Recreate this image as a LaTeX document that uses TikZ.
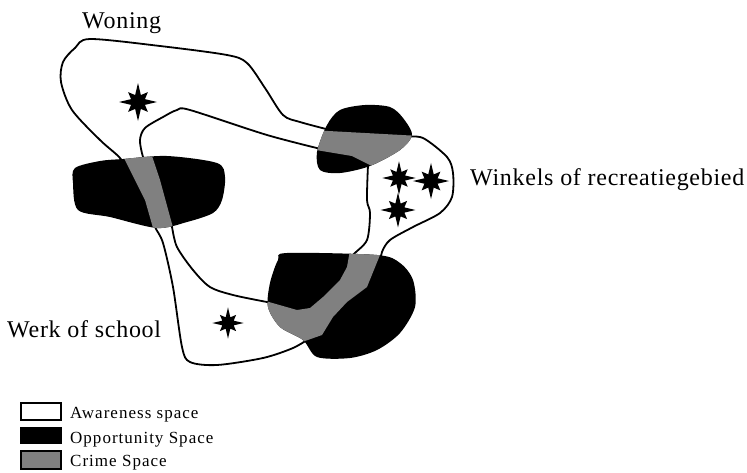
\documentclass[tikz,border=0pt]{standalone}
\usepackage{fontspec}
\setmainfont{Liberation Serif}
\newfontfamily\labelfont[LetterSpace=3]{Liberation Serif}
\newfontfamily\legendfont[LetterSpace=6]{Liberation Serif}
\definecolor{crimegray}{RGB}{128,128,128}
\tikzset{
  aware/.style={line width=1.8pt, line join=round, line cap=round},
  blob/.style={fill=black},
  band/.style={fill=crimegray},
  placelabel/.style={inner sep=0pt, font=\labelfont\fontsize{24}{26}\selectfont},
  legendlabel/.style={inner sep=0pt, font=\legendfont\fontsize{17}{19}\selectfont},
  legendbox/.style={draw=black, line width=1.6pt},
  crimestar/.pic={
    \fill[black] (0:19pt)--(22.5:7.5pt)--(45:14pt)--(67.5:7.5pt)--(90:19pt)--(112.5:7.5pt)--(135:14pt)--(157.5:7.5pt)--(180:19pt)--(202.5:7.5pt)--(225:14pt)--(247.5:7.5pt)--(270:19pt)--(292.5:7.5pt)--(315:14pt)--(337.5:7.5pt)--cycle;
  }
}
\begin{document}
\begin{tikzpicture}[x=1pt,y=-1pt]
\useasboundingbox (0,0) rectangle (747,472);

% awareness space outlines
\draw[aware] plot[smooth, tension=0.5] coordinates {(130,175) (120,158) (100,140) (72,110) (61,82) (63,62) (75,48) (90,39) (160,46) (227,55) (247,63) (265,88) (283,115) (300,122) (330,130)};
\draw[aware] plot[smooth, tension=0.5] coordinates {(150,175) (143,157) (140,140) (145,128) (163,117) (177,110) (190,110) (267,135) (325,150)};
\draw[aware] plot[smooth, tension=0.5] coordinates {(405,137) (423,138) (447,157) (453,173) (452,197) (440,213) (413,227) (390,240) (382,252) (380,265)};
\draw[aware] plot[smooth, tension=0.5] coordinates {(368,165) (367,200) (370,213) (367,240) (353,255) (348,265)};
\draw[aware] plot[smooth, tension=0.5] coordinates {(310,338) (293,348) (263,358) (217,365) (190,362) (182,347) (173,287) (163,243) (155,227) (152,215)};
\draw[aware] plot[smooth, tension=0.5] coordinates {(275,303) (267,302) (233,295) (210,287) (193,270) (177,247) (172,227) (170,215)};

% left blob
\def\leftblob{plot[smooth cycle, tension=0.5] coordinates {(100,161) (123,159) (167,156) (217,163) (225,177) (222,200) (213,213) (187,222) (157,228) (110,217) (78,210) (73,183) (75,168)}}
\fill[blob] \leftblob;
\begin{scope}
  \clip \leftblob;
  \fill[band] (120,150) -- (150,150) -- (160,180) -- (175,235) -- (155,235) -- (145,200) -- (130,170) -- cycle;
\end{scope}

% top blob
\def\topblob{plot[smooth cycle, tension=0.5] coordinates {(327,125) (340,110) (365,105) (390,107) (403,118) (412,135) (400,150) (370,166) (340,173) (320,170) (317,152)}}
\fill[blob] \topblob;
\begin{scope}
  \clip \topblob;
  \fill[band] (310,130) -- (420,136) -- (420,145) -- (372,166) -- (352,156) -- (310,149) -- cycle;
\end{scope}

% bottom blob
\def\botblob{plot[smooth cycle, tension=0.5] coordinates {(287,253) (377,255) (400,263) (413,280) (415,307) (400,333) (377,350) (350,358) (317,357) (303,340) (280,327) (268,307) (270,283) (278,260)}}
\fill[blob] \botblob;
\begin{scope}
  \clip \botblob;
  \fill[band] (262,300) -- (297,310) -- (310,308) -- (323,297) -- (340,280) -- (347,267) -- (350,250) -- (382,250) -- (367,287) -- (347,302) -- (333,317) -- (322,335) -- (305,341) -- (290,345) -- (260,320) -- cycle;
\end{scope}

% stars
\pic at (138,102) {crimestar};
\pic[scale=0.88] at (399,178) {crimestar};
\pic[scale=0.95] at (431,181) {crimestar};
\pic[scale=0.92] at (398,210) {crimestar};
\pic[scale=0.82] at (228,323) {crimestar};

% labels
\node[placelabel, anchor=base west] (woning) at (82,28) {Woning};
\node[placelabel, anchor=base west] (winkels) at (470,185) {Winkels of recreatiegebied};
\node[placelabel, anchor=base west] (werk) at (7,337) {Werk of school};

% legend
\draw[legendbox, fill=white] (21,403) rectangle (61,420);
\fill[black] (20,427) rectangle (62,444);
\draw[legendbox, fill=crimegray] (21,451) rectangle (61,469);
\node[legendlabel, anchor=base west] (lg1) at (70,418) {Awareness space};
\node[legendlabel, anchor=base west] (lg2) at (70,443) {Opportunity Space};
\node[legendlabel, anchor=base west] (lg3) at (70,466) {Crime Space};
\end{tikzpicture}
\end{document}
